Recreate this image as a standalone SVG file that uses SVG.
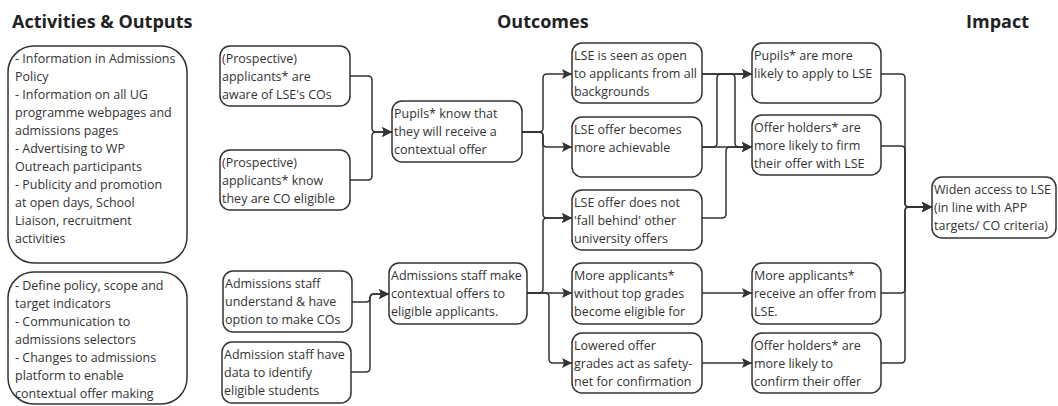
<svg xmlns="http://www.w3.org/2000/svg" width="1058" height="406" viewBox="0 0 1058 406">
<style>
.t{font-family:"Open Sans","Liberation Sans",sans-serif;font-size:12.5px;fill:#333}
.h{font-family:"Open Sans","Liberation Sans",sans-serif;font-size:18px;font-weight:bold;fill:#222}
.b{fill:#fff;stroke:#333;stroke-width:1.5}
.c path{fill:none;stroke:#333;stroke-width:1.5}
</style>
<defs>
<marker id="ar" markerUnits="userSpaceOnUse" markerWidth="11" markerHeight="10" refX="10" refY="5" orient="auto">
<path d="M0,0 L10,5 L0,10 L2,5 z" fill="#333"/>
</marker>
</defs>
<rect width="1058" height="406" fill="#fff"/>
<text class="h" x="12" y="28">Activities &amp; Outputs</text>
<text class="h" x="497" y="28">Outcomes</text>
<text class="h" x="966" y="28">Impact</text>

<g class="c">
<path d="M350,76 H368 Q372,76 372,80 V128 Q372,132 376,132 H392" marker-end="url(#ar)"/>
<path d="M350,180 H368 Q372,180 372,176 V136 Q372,132 376,132 H392" marker-end="url(#ar)"/>
<path d="M352,302 H366 Q370,302 370,298 Q370,294 374,294 H389" marker-end="url(#ar)"/>
<path d="M351,372 H366 Q370,372 370,368 V298 Q370,294 374,294 H389" marker-end="url(#ar)"/>
<path d="M522,132 H539 Q543,132 543,128 V78 Q543,74 547,74 H572" marker-end="url(#ar)"/>
<path d="M522,132 H539 Q543,132 543,136 V143 Q543,147 547,147 H572" marker-end="url(#ar)"/>
<path d="M522,132 H539 Q543,132 543,136 V214 Q543,218 547,218 H572" marker-end="url(#ar)"/>
<path d="M527,293 H539 Q543,293 543,289 V222 Q543,218 547,218 H572" marker-end="url(#ar)"/>
<path d="M527,293 H572" marker-end="url(#ar)"/>
<path d="M527,293 H545 Q549,293 549,297 V359 Q549,363 553,363 H572" marker-end="url(#ar)"/>
<path d="M702,74 H752" marker-end="url(#ar)"/>
<path d="M702,74 H731 Q735,74 735,78 V143 Q735,147 739,147 H752" marker-end="url(#ar)"/>
<path d="M702,147 H713 Q717,147 717,143 V78 Q717,74 721,74 H752" marker-end="url(#ar)"/>
<path d="M702,147 H752" marker-end="url(#ar)"/>
<path d="M702,218 H722 Q726,218 726,214 V151 Q726,147 730,147 H752" marker-end="url(#ar)"/>
<path d="M702,293 H752" marker-end="url(#ar)"/>
<path d="M702,363 H752" marker-end="url(#ar)"/>
<path d="M881,74 H901 Q905,74 905,78 V203 Q905,207 909,207 H932" marker-end="url(#ar)"/>
<path d="M881,146 H901 Q905,146 905,150 V203 Q905,207 909,207 H932" marker-end="url(#ar)"/>
<path d="M881,293 H901 Q905,293 905,289 V211 Q905,207 909,207 H932" marker-end="url(#ar)"/>
<path d="M881,363 H901 Q905,363 905,359 V211 Q905,207 909,207 H932" marker-end="url(#ar)"/>
</g>

<g id="a1">
<rect class="b" x="8" y="46" width="179" height="217" rx="26"/>
<text class="t"><tspan x="15" y="63">- Information in Admissions</tspan><tspan x="15" y="81">Policy</tspan><tspan x="15" y="99">- Information on all UG</tspan><tspan x="15" y="117">programme webpages and</tspan><tspan x="15" y="135">admissions pages</tspan><tspan x="15" y="153">- Advertising to WP</tspan><tspan x="15" y="171">Outreach participants</tspan><tspan x="15" y="189">- Publicity and promotion</tspan><tspan x="15" y="207">at open days, School</tspan><tspan x="15" y="225">Liaison, recruitment</tspan><tspan x="15" y="243">activities</tspan></text>
</g>
<g id="a2">
<rect class="b" x="8" y="272" width="179" height="132" rx="26"/>
<text class="t"><tspan x="15" y="290">- Define policy, scope and</tspan><tspan x="15" y="308">target indicators</tspan><tspan x="15" y="326">- Communication to</tspan><tspan x="15" y="344">admissions selectors</tspan><tspan x="15" y="362">- Changes to admissions</tspan><tspan x="15" y="380">platform to enable</tspan><tspan x="15" y="398">contextual offer making</tspan></text>
</g>

<g id="b1">
<rect class="b" x="220" y="46" width="130" height="60" rx="10"/>
<text class="t"><tspan x="222" y="63">(Prospective)</tspan><tspan x="222" y="81">applicants* are</tspan><tspan x="222" y="99">aware of LSE's COs</tspan></text>
</g>
<g id="b2">
<rect class="b" x="220" y="150" width="130" height="60" rx="10"/>
<text class="t"><tspan x="222" y="167">(Prospective)</tspan><tspan x="222" y="185">applicants* know</tspan><tspan x="222" y="203">they are CO eligible</tspan></text>
</g>
<g id="b3">
<rect class="b" x="223" y="271" width="129" height="61" rx="10"/>
<text class="t"><tspan x="225" y="288">Admissions staff</tspan><tspan x="225" y="306">understand &amp; have</tspan><tspan x="225" y="324">option to make COs</tspan></text>
</g>
<g id="b4">
<rect class="b" x="222" y="342" width="129" height="61" rx="10"/>
<text class="t"><tspan x="224" y="359">Admission staff have</tspan><tspan x="224" y="377">data to identify</tspan><tspan x="224" y="395">eligible students</tspan></text>
</g>

<g id="c1">
<rect class="b" x="392" y="101" width="130" height="61" rx="10"/>
<text class="t"><tspan x="394" y="118">Pupils* know that</tspan><tspan x="394" y="136">they will receive a</tspan><tspan x="394" y="154">contextual offer</tspan></text>
</g>
<g id="c2">
<rect class="b" x="389" y="263" width="138" height="61" rx="10"/>
<text class="t"><tspan x="391" y="280">Admissions staff make</tspan><tspan x="391" y="298">contextual offers to</tspan><tspan x="391" y="316">eligible applicants.</tspan></text>
</g>

<g id="d1">
<rect class="b" x="572" y="43" width="130" height="60" rx="10"/>
<text class="t"><tspan x="574" y="60">LSE is seen as open</tspan><tspan x="574" y="78">to applicants from all</tspan><tspan x="574" y="96">backgrounds</tspan></text>
</g>
<g id="d2">
<rect class="b" x="572" y="117" width="130" height="60" rx="10"/>
<text class="t"><tspan x="574" y="134">LSE offer becomes</tspan><tspan x="574" y="152">more achievable</tspan></text>
</g>
<g id="d3">
<rect class="b" x="572" y="190" width="130" height="60" rx="10"/>
<text class="t"><tspan x="574" y="207">LSE offer does not</tspan><tspan x="574" y="225">'fall behind' other</tspan><tspan x="574" y="243">university offers</tspan></text>
</g>
<g id="d4">
<rect class="b" x="572" y="263" width="130" height="61" rx="10"/>
<text class="t"><tspan x="574" y="280">More applicants*</tspan><tspan x="574" y="298">without top grades</tspan><tspan x="574" y="316">become eligible for</tspan></text>
</g>
<g id="d5">
<rect class="b" x="572" y="333" width="130" height="60" rx="10"/>
<text class="t"><tspan x="574" y="350">Lowered offer</tspan><tspan x="574" y="368">grades act as safety-</tspan><tspan x="574" y="386">net for confirmation</tspan></text>
</g>

<g id="e1">
<rect class="b" x="752" y="43" width="129" height="60" rx="10"/>
<text class="t"><tspan x="754" y="60">Pupils* are more</tspan><tspan x="754" y="78">likely to apply to LSE</tspan></text>
</g>
<g id="e2">
<rect class="b" x="752" y="115" width="129" height="60" rx="10"/>
<text class="t"><tspan x="754" y="132">Offer holders* are</tspan><tspan x="754" y="150">more likely to firm</tspan><tspan x="754" y="168">their offer with LSE</tspan></text>
</g>
<g id="e3">
<rect class="b" x="752" y="263" width="129" height="61" rx="10"/>
<text class="t"><tspan x="754" y="280">More applicants*</tspan><tspan x="754" y="298">receive an offer from</tspan><tspan x="754" y="316">LSE.</tspan></text>
</g>
<g id="e4">
<rect class="b" x="752" y="333" width="129" height="60" rx="10"/>
<text class="t"><tspan x="754" y="350">Offer holders* are</tspan><tspan x="754" y="368">more likely to</tspan><tspan x="754" y="386">confirm their offer</tspan></text>
</g>

<g id="f">
<rect class="b" x="932" y="177" width="124" height="61" rx="10"/>
<text class="t"><tspan x="934" y="194">Widen access to LSE</tspan><tspan x="934" y="212">(in line with APP</tspan><tspan x="934" y="230">targets/ CO criteria)</tspan></text>
</g>
</svg>
